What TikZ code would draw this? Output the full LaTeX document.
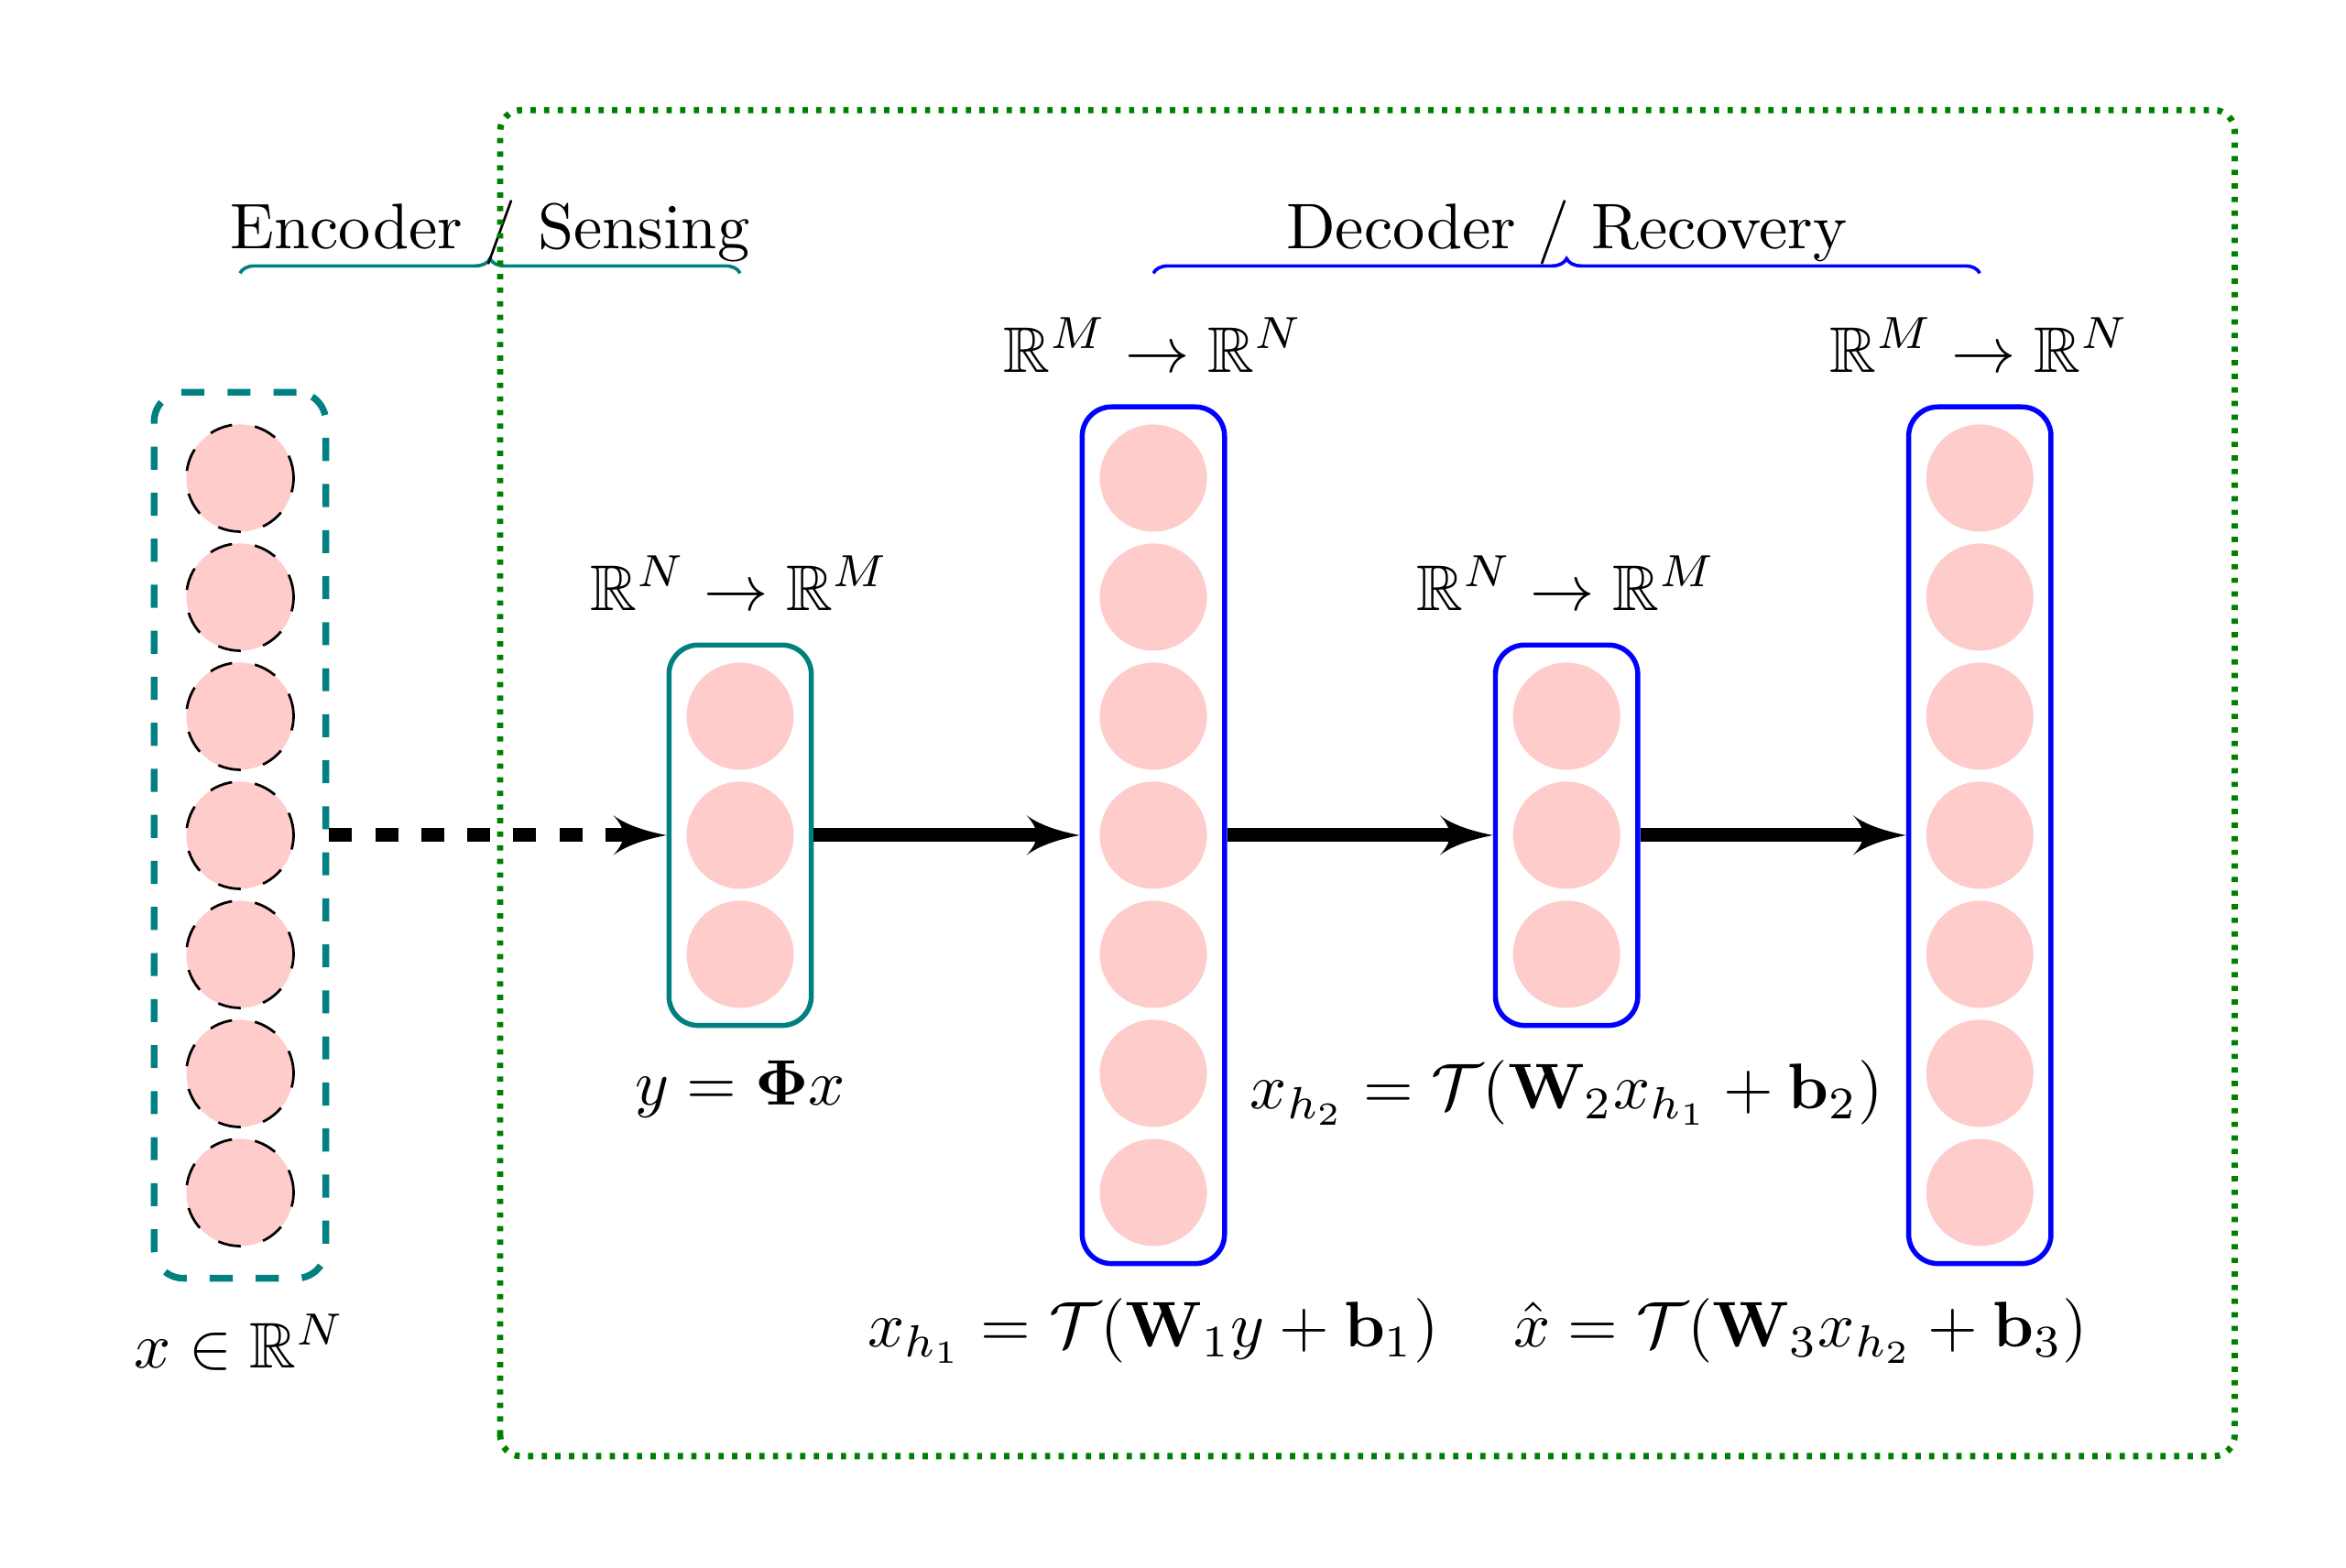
\documentclass[tikz,border=0pt]{standalone}
\usepackage{amsmath}
\usepackage{amsfonts,amssymb}
\usepackage{tikz}
\usetikzlibrary{arrows, positioning, fit, decorations.pathreplacing}

\newcommand{\bigtxt}[1]{\scalebox{1.54}{#1}}

\begin{document}
\begin{tikzpicture}[>=latex',
		neuron/.style={circle, fill=red!20, inner sep=0pt, minimum size=0.9cm},
		inneuron/.style={neuron, draw=black, semithick, dash pattern=on 5.5pt off 5.5pt},
		layerbox/.style={draw=#1, very thick, rounded corners=7pt, inner sep=4pt},
		mathlabel/.style={inner sep=3pt},
		flow/.style={->, line width=3.3pt},
		groupbrace/.style={draw=#1, thick, decorate, decoration={brace, amplitude=3.5pt}}]
	\useasboundingbox (-2.015,-6.154) rectangle (17.685,7.015);
	% neurons
	\foreach \i in {1,...,7} {
		\node[inneuron] (in-\i)  at (0,4-\i) {};
		\node[neuron]   (hA-\i)  at (7.67,4-\i) {};
		\node[neuron]   (out-\i) at (14.61,4-\i) {};
	}
	\foreach \i in {1,...,3} {
		\node[neuron] (enc-\i) at (4.2,2-\i) {};
		\node[neuron] (hB-\i)  at (11.14,2-\i) {};
	}
	% layer boxes
	\node[layerbox=teal, ultra thick, dash pattern=on 5.5pt off 5.5pt, inner sep=7.4pt, fit=(in-1)(in-7)] (inbox) {};
	\node[layerbox=teal, fit=(enc-1)(enc-3)] (encbox) {};
	\node[layerbox=blue, fit=(hA-1)(hA-7)]   (dec1box) {};
	\node[layerbox=blue, fit=(hB-1)(hB-3)]   (dec2box) {};
	\node[layerbox=blue, fit=(out-1)(out-7)] (outbox) {};
	% mappings
	\node[above=0.27cm of encbox, anchor=base]  (encmap)  {\bigtxt{$\mathbb{R}^N \rightarrow \mathbb{R}^M$}};
	\node[above=0.27cm of dec1box, anchor=base] (dec1map) {\bigtxt{$\mathbb{R}^M \rightarrow \mathbb{R}^N$}};
	\node[above=0.27cm of dec2box, anchor=base] (dec2map) {\bigtxt{$\mathbb{R}^N \rightarrow \mathbb{R}^M$}};
	\node[above=0.27cm of outbox, anchor=base]  (outmap)  {\bigtxt{$\mathbb{R}^M \rightarrow \mathbb{R}^N$}};
	% equations
	\node[mathlabel, below=0.16cm of inbox]   (xlab)   {\bigtxt{$x \in \mathbb{R}^N$}};
	\node[mathlabel, below=0.16cm of encbox]  (ylab)   {\bigtxt{$y = \mathbf{\Phi} x$}};
	\node[mathlabel, below=0.16cm of dec1box] (hAlab)  {\bigtxt{$x_{h_1} = \mathcal{T}(\mathbf{W}_1 y + \mathbf{b}_1)$}};
	\node[mathlabel, below=0.16cm of dec2box] (hBlab)  {\bigtxt{$x_{h_2} = \mathcal{T}(\mathbf{W}_2 x_{h_1} + \mathbf{b}_2)$}};
	\node[mathlabel, right=0.4cm of hAlab]    (outlab) {\bigtxt{$\hat{x} = \mathcal{T}(\mathbf{W}_3 x_{h_2} + \mathbf{b}_3)$}};
	% arrows
	\draw[flow, dash pattern=on 5.5pt off 5.5pt] (inbox) -- (encbox);
	\draw[flow] (encbox) -- (dec1box);
	\draw[flow] (dec1box) -- (dec2box);
	\draw[flow] (dec2box) -- (outbox);
	% braces
	\coordinate (encL) at (0,4.72);
	\coordinate (encR) at (4.2,4.72);
	\coordinate (decL) at (7.67,4.72);
	\coordinate (decR) at (14.61,4.72);
	\draw[groupbrace=teal] (encL) -- (encR) node[midway, anchor=base, yshift=0.21cm] (enclab) {\bigtxt{Encoder / Sensing}};
	\draw[groupbrace=blue] (decL) -- (decR) node[midway, anchor=base, yshift=0.21cm] (declab) {\bigtxt{Decoder / Recovery}};
	% network frame
	\draw[green!50!black, line width=1.5pt, dash pattern=on 1.25pt off 2pt, rounded corners=5pt] (2.185,-5.215) rectangle (16.75,6.09);
\end{tikzpicture}
\end{document}
